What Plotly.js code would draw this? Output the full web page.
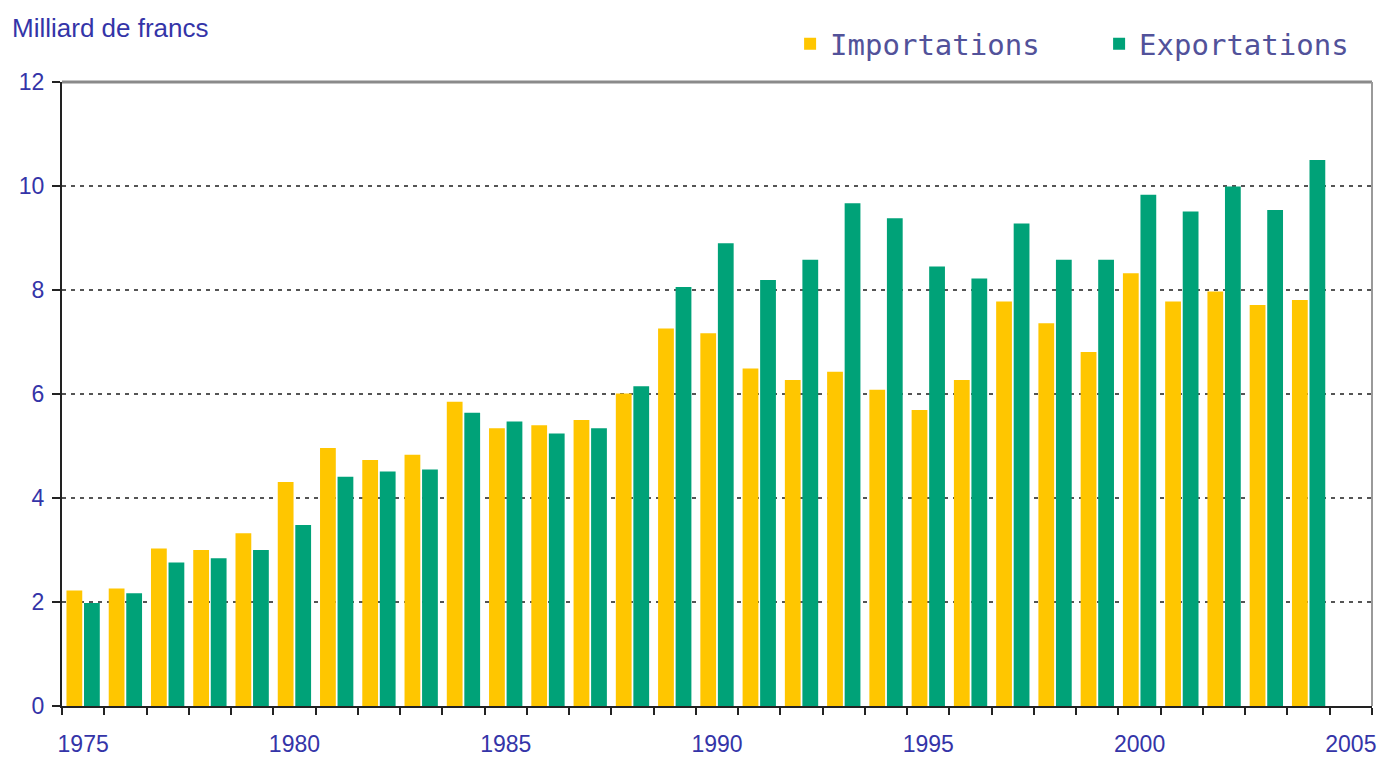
<!DOCTYPE html>
<html>
<head>
<meta charset="utf-8">
<script src="https://cdn.plot.ly/plotly-3.0.1.min.js"></script>
<style>
  html, body { margin: 0; padding: 0; background: #ffffff; }
  #chart { width: 1389px; height: 757px; }
</style>
</head>
<body>
<div id="chart"></div>
<script>
const years = [1975, 1976, 1977, 1978, 1979, 1980, 1981, 1982, 1983, 1984,
               1985, 1986, 1987, 1988, 1989, 1990, 1991, 1992, 1993, 1994,
               1995, 1996, 1997, 1998, 1999, 2000, 2001, 2002, 2003, 2004];
const importations = [2.22, 2.26, 3.03, 3.0, 3.32, 4.31, 4.96, 4.73, 4.83, 5.85,
                      5.34, 5.4, 5.5, 6.01, 7.26, 7.17, 6.49, 6.27, 6.43, 6.08,
                      5.69, 6.27, 7.78, 7.36, 6.81, 8.32, 7.78, 7.97, 7.71, 7.81];
const exportations = [1.98, 2.17, 2.76, 2.84, 3.0, 3.48, 4.41, 4.51, 4.55, 5.64,
                      5.47, 5.24, 5.34, 6.15, 8.06, 8.9, 8.19, 8.58, 9.67, 9.38,
                      8.45, 8.22, 9.28, 8.58, 8.58, 9.83, 9.51, 9.99, 9.54, 10.5];
const xTickVals = [1975, 1980, 1985, 1990, 1995, 2000, 2005];
const xTickText = ["1975", "1980", "1985", "1990", "1995", "2000", "2005"];
const yTickVals = [0, 2, 4, 6, 8, 10, 12];
const seriesNames = ["Importations", "Exportations"];

const blue = "#3434a8";

const traces = [
  {
    type: "bar", name: seriesNames[0], x: years, y: importations,
    marker: { color: "#FFC600" }
  },
  {
    type: "bar", name: seriesNames[1], x: years, y: exportations,
    marker: { color: "#00A278" }
  }
];

const layout = {
  width: 1389, height: 757,
  paper_bgcolor: "#ffffff", plot_bgcolor: "#ffffff",
  margin: { l: 62, r: 17, t: 82, b: 51, autoexpand: false },
  barmode: "group", bargap: 0.17, bargroupgap: 0.1,
  showlegend: true,
  legend: {
    orientation: "h", x: 0.5558, xanchor: "left", y: 1.061, yanchor: "middle",
    font: { family: "DejaVu Sans Mono", size: 29, color: "#52529a" },
    bgcolor: "rgba(0,0,0,0)", borderwidth: 0,
    entrywidth: 264, entrywidthmode: "pixels", traceorder: "normal"
  },
  title: {
    text: "Milliard de francs",
    xref: "container", yref: "container",
    x: 12 / 1389, xanchor: "left", y: 1 - 28 / 757, yanchor: "middle",
    font: { family: "Liberation Sans", size: 26, color: blue }
  },
  xaxis: {
    range: [1974.5, 2005.5], type: "linear",
    tickvals: xTickVals, ticktext: xTickText, ticks: "",
    ticklabelstandoff: 16,
    tickfont: { family: "Liberation Sans", size: 23, color: blue },
    showline: true, linecolor: "#222222", linewidth: 2,
    showgrid: false, zeroline: false,
    minor: { tick0: 1974.5, dtick: 1, ticks: "outside", ticklen: 7, tickcolor: "#222222", tickwidth: 2, showgrid: false }
  },
  yaxis: {
    range: [0, 12], tickvals: yTickVals,
    ticks: "outside", ticklen: 8, tickwidth: 2, tickcolor: "#222222",
    ticklabelstandoff: 3,
    tickfont: { family: "Liberation Sans", size: 23, color: blue },
    showline: true, linecolor: "#222222", linewidth: 2,
    showgrid: true, gridcolor: "#555555", gridwidth: 2, griddash: "4px,5px",
    zeroline: false
  },
  shapes: [
    { type: "line", xref: "paper", yref: "paper", x0: 0, x1: 1, y0: 1, y1: 1, line: { color: "#8a8a8a", width: 3 } },
    { type: "line", xref: "paper", yref: "paper", x0: 1, x1: 1, y0: 0, y1: 1, line: { color: "#9a9a9a", width: 2 } }
  ]
};

Plotly.newPlot("chart", traces, layout, { displayModeBar: false, staticPlot: true });
</script>
</body>
</html>
